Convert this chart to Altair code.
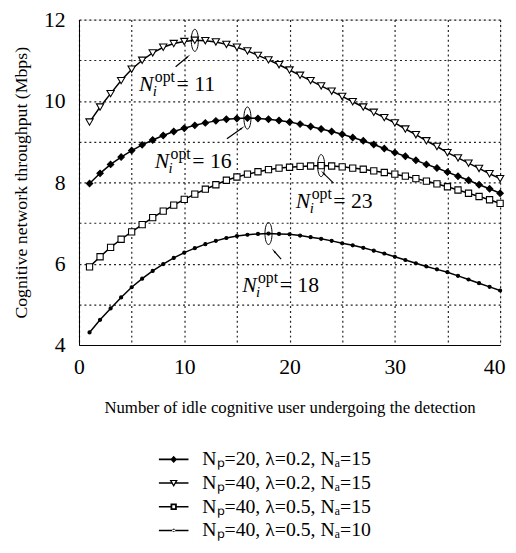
import altair as alt
import pandas as pd

# ---------------- data ----------------
x_vals = list(range(1, 41))

series_names = [
    "N\u209a=20, \u03bb=0.2, N\u2090=15",
    "N\u209a=40, \u03bb=0.2, N\u2090=15",
    "N\u209a=40, \u03bb=0.5, N\u2090=15",
    "N\u209a=40, \u03bb=0.5, N\u2090=10",
]

y_np20_l02_na15 = [7.97, 8.22, 8.44, 8.62, 8.78, 8.92, 9.04, 9.15, 9.25, 9.33,
                   9.40, 9.46, 9.51, 9.55, 9.57, 9.58, 9.57, 9.55, 9.52, 9.48,
                   9.43, 9.37, 9.31, 9.25, 9.18, 9.10, 9.02, 8.93, 8.83, 8.73,
                   8.64, 8.54, 8.44, 8.35, 8.25, 8.15, 8.05, 7.94, 7.84, 7.73]
y_np40_l02_na15 = [9.48, 9.85, 10.18, 10.50, 10.78, 11.00, 11.18, 11.32, 11.41, 11.46,
                   11.49, 11.48, 11.45, 11.39, 11.32, 11.23, 11.12, 11.01, 10.89, 10.76,
                   10.63, 10.50, 10.37, 10.24, 10.11, 9.98, 9.85, 9.72, 9.59, 9.46,
                   9.31, 9.17, 9.02, 8.88, 8.73, 8.60, 8.47, 8.34, 8.21, 8.09]
y_np40_l05_na15 = [5.92, 6.17, 6.40, 6.60, 6.78, 6.96, 7.13, 7.29, 7.44, 7.58,
                   7.71, 7.83, 7.94, 8.05, 8.13, 8.20, 8.26, 8.31, 8.35, 8.37,
                   8.39, 8.40, 8.41, 8.40, 8.38, 8.35, 8.32, 8.28, 8.24, 8.20,
                   8.15, 8.09, 8.03, 7.96, 7.89, 7.81, 7.73, 7.65, 7.57, 7.48]
y_np40_l05_na10 = [4.31, 4.62, 4.90, 5.17, 5.42, 5.63, 5.82, 5.99, 6.14, 6.27,
                   6.38, 6.48, 6.56, 6.63, 6.68, 6.71, 6.73, 6.74, 6.73, 6.72,
                   6.69, 6.65, 6.61, 6.56, 6.50, 6.45, 6.39, 6.32, 6.25, 6.17,
                   6.09, 6.01, 5.93, 5.86, 5.79, 5.70, 5.61, 5.52, 5.43, 5.34]
all_series = [y_np20_l02_na15, y_np40_l02_na15, y_np40_l05_na15, y_np40_l05_na10]

# annotations: optimum points, label anchors, arrows
opt_x = [11, 16, 23, 18]
opt_y = [11.49, 9.58, 8.41, 6.74]
opt_label = ["=\u200511", "=\u200516", "=\u200523", "=\u200518"]
label_x = [5.7, 7.2, 20.6, 15.5]
label_y = [10.25, 8.36, 7.36, 5.31]
arrow_x1 = [9.18, 14.05, 24.18, 19.2]
arrow_y1 = [10.84, 9.07, 7.98, 6.11]
arrow_x2 = [10.30, 15.46, 23.23, 18.55]
arrow_y2 = [11.08, 9.33, 8.22, 6.30]
arrow_angle = [50, 54, 315, 319]

x_ticks = list(range(0, 41, 5))
y_ticks = list(range(4, 13, 1))

# ---------------- tables ----------------
rows = []
for name, ys in zip(series_names, all_series):
    for xv, yv in zip(x_vals, ys):
        rows.append({"x": xv, "y": yv, "series": name})
df = pd.DataFrame(rows)

ann = pd.DataFrame({
    "ox": opt_x, "oy": opt_y, "lab": opt_label, "lx": label_x, "ly": label_y,
    "ax1": arrow_x1, "ay1": arrow_y1, "ax2": arrow_x2, "ay2": arrow_y2, "ang": arrow_angle,
})

SERIF = "Liberation Serif"

xscale = alt.Scale(domain=[0, 40], nice=False, zero=False)
yscale = alt.Scale(domain=[4, 12], nice=False, zero=False)

xaxis = alt.Axis(
    title="Number of idle cognitive user undergoing the detection",
    values=x_ticks, labelExpr="datum.value % 10 == 0 ? datum.label : ''",
    labelOffset={"condition": {"test": "datum.value == 40", "value": -6}, "value": 0},
    grid=True, ticks=False, labelFontSize=22, labelFont=SERIF, labelPadding=12,
    titleFont=SERIF, titleFontSize=17, titleFontWeight="normal", titlePadding=22,
    titleColor="black", labelColor="black", domainColor="black",
    gridColor="#222", gridDash=[2, 3], gridWidth=1.2, labelFlush=False,
)
yaxis = alt.Axis(
    title="Cognitive network throughput (Mbps)",
    values=y_ticks, labelExpr="datum.value % 2 == 0 ? datum.label : ''",
    grid=True, ticks=False, labelFontSize=22, labelFont=SERIF, labelPadding=14,
    titleFont=SERIF, titleFontSize=18, titleFontWeight="normal", titlePadding=13,
    titleColor="black", labelColor="black", domainColor="black",
    gridColor="#222", gridDash=[2, 3], gridWidth=1.2, labelFlush=False,
)

X = alt.X("x:Q", scale=xscale, axis=xaxis)
Y = alt.Y("y:Q", scale=yscale, axis=yaxis)

base = alt.Chart(df)

lines = base.mark_line(color="black", strokeWidth=1.5).encode(
    x=X, y=Y, detail="series:N"
)

marker_specs = [
    ("diamond", "black", 42),
    ("triangle-down", "white", 55),
    ("square", "white", 40),
    ("circle", "black", 10),
]
point_layers = []
for name, (shp, fillc, sz) in zip(series_names, marker_specs):
    point_layers.append(
        base.transform_filter(alt.datum.series == name).mark_point(
            shape=shp, filled=True, fill=fillc, stroke="black", strokeWidth=1.1,
            size=sz, opacity=1
        ).encode(x="x:Q", y="y:Q")
    )

# legend symbols: line (thin filled bars) + marker (hollow markers drawn as rings)
legend_paths = [
    "M-1.5,-0.08H-0.25V0.08H-1.5ZM0.25,-0.08H1.5V0.08H0.25Z"
    "M0,-0.36L0.34,0L0,0.36L-0.34,0Z",
    "M-1.5,-0.08H-0.2V0.08H-1.5ZM0.2,-0.08H1.5V0.08H0.2Z"
    "M-0.42,-0.32L0.42,-0.32L0,0.4ZM-0.19,-0.2L0,0.14L0.19,-0.2Z",
    "M-1.5,-0.08H-0.32V0.08H-1.5ZM0.32,-0.08H1.5V0.08H0.32Z"
    "M-0.32,-0.32H0.32V0.32H-0.32ZM-0.14,-0.14V0.14H0.14V-0.14Z",
    "M-1.5,-0.08H1.5V0.08H-1.5Z"
    "M-0.16,0A0.16,0.16 0 1,0 0.16,0A0.16,0.16 0 1,0 -0.16,0Z",
]

legend_layer = base.transform_filter("datum.x < 0").mark_point(
    filled=True, color="black", strokeWidth=1.5, size=400, opacity=1
).encode(
    x="x:Q", y="y:Q",
    shape=alt.Shape(
        "series:N",
        scale=alt.Scale(domain=series_names, range=legend_paths),
        sort=series_names,
        legend=alt.Legend(
            title=None, orient="none", legendX=86, legendY=436, padding=0,
            labelFont=SERIF, labelFontSize=20, labelColor="black", labelOffset=19,
            symbolSize=400, symbolStrokeColor="black", symbolFillColor="black",
            symbolStrokeWidth=0, symbolOpacity=1, rowPadding=4, labelLimit=400,
        ),
    ),
)

abase = alt.Chart(ann)
ellipses = abase.mark_point(
    shape="M0,-1A0.32,1 0 1,1 0,1A0.32,1 0 1,1 0,-1Z",
    filled=False, stroke="black", strokeWidth=1, size=500, opacity=1
).encode(x="ox:Q", y="oy:Q")

arrows = abase.mark_rule(color="black", strokeWidth=1.2).encode(
    x="ax1:Q", y="ay1:Q", x2="ax2:Q", y2="ay2:Q"
)
heads = abase.mark_point(shape="wedge", filled=True, color="black", size=45, opacity=1).encode(
    x="ax2:Q", y="ay2:Q", angle=alt.Angle("ang:Q", scale=None)
)

t_n = abase.mark_text(text="N", font=SERIF, fontStyle="italic", fontSize=22,
                      align="left", baseline="alphabetic", color="black").encode(x="lx:Q", y="ly:Q")
t_opt = abase.mark_text(text="opt", font=SERIF, fontSize=16, dx=16, dy=-9,
                        align="left", baseline="alphabetic", color="black").encode(x="lx:Q", y="ly:Q")
t_i = abase.mark_text(text="i", font=SERIF, fontStyle="italic", fontSize=15, dx=14, dy=5,
                      align="left", baseline="alphabetic", color="black").encode(x="lx:Q", y="ly:Q")
t_eq = abase.mark_text(font=SERIF, fontSize=22, dx=38,
                       align="left", baseline="alphabetic", color="black").encode(
    x="lx:Q", y="ly:Q", text="lab:N")

chart = alt.layer(
    lines, *point_layers, legend_layer, ellipses, arrows, heads, t_n, t_opt, t_i, t_eq
).properties(
    width=427, height=330,
    autosize=alt.AutoSizeParams(type="none"),
    padding={"left": 72, "top": 8, "right": 8, "bottom": 195},
).configure_view(
    stroke="black", strokeWidth=1.2
).configure(background="white")

chart.save("out.html", embed_options={"renderer": "svg", "actions": False})
